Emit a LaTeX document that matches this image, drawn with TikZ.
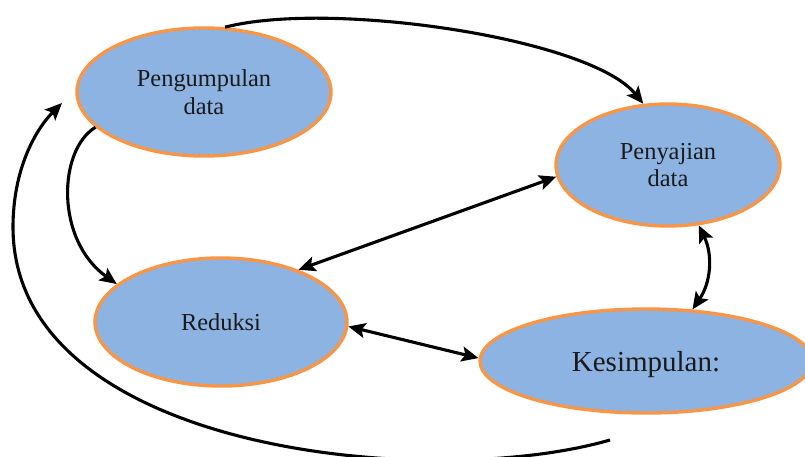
\documentclass[tikz,border=0pt]{standalone}
\usepackage{fontspec}
\setmainfont{Liberation Serif}
\usetikzlibrary{shapes.geometric,arrows.meta}
\definecolor{fillblue}{HTML}{8DB3E2}
\definecolor{edgeorange}{HTML}{F79646}
\definecolor{txt}{HTML}{1A1A1A}
\begin{document}
\begin{tikzpicture}[x=1pt,y=-1pt,
  stage/.style={ellipse,draw=edgeorange,fill=fillblue,line width=3.4pt,inner sep=0pt,
    align=center,text=txt,font=\fontsize{24.4}{27.5}\selectfont},
  conn/.style={line width=3.1pt,black},
  tip/.style={-{Stealth[length=17pt,width=15pt,inset=3.5pt]}},
  both/.style={{Stealth[length=17pt,width=15pt,inset=3.5pt]}-{Stealth[length=17pt,width=15pt,inset=3.5pt]}}]
\useasboundingbox (0,0) rectangle (805,457);
\node[stage,minimum width=254pt,minimum height=128pt] (P) at (204,92) {Pengumpulan\\data};
\node[stage,minimum width=224pt,minimum height=122pt] (S) at (668,165) {Penyajian\\data};
\node[stage,minimum width=252pt,minimum height=128pt] (R) at (221,322) {Reduksi};
\node[stage,minimum width=332pt,minimum height=104pt,text depth=0pt,font=\fontsize{29}{32}\selectfont] (K) at (646,361) {Kesimpulan:};
\coordinate (loopstart) at (610,440);
\coordinate (loopmid) at (13,227);
\coordinate (loopend) at (62,103);
% top arc: P -> S
\draw[conn,tip] (P.72) .. controls (330,0) and (590,38) .. (S.112);
% P -> R
\draw[conn,tip] (P.198) .. controls (58,150) and (55,240) .. (R.160);
% big loop back to P
\draw[conn,tip] (loopstart) .. controls (430,492) and (13,452) .. (loopmid)
  .. controls (13,170) and (35,130) .. (loopend);
% R <-> S
\draw[conn,both] (R.34) -- (S.186);
% R <-> K
\draw[conn,both] (R.-2) -- (K.179);
% S <-> K
\draw[conn,both] (S.297) to[bend left=30] (K.48);
\end{tikzpicture}
\end{document}
